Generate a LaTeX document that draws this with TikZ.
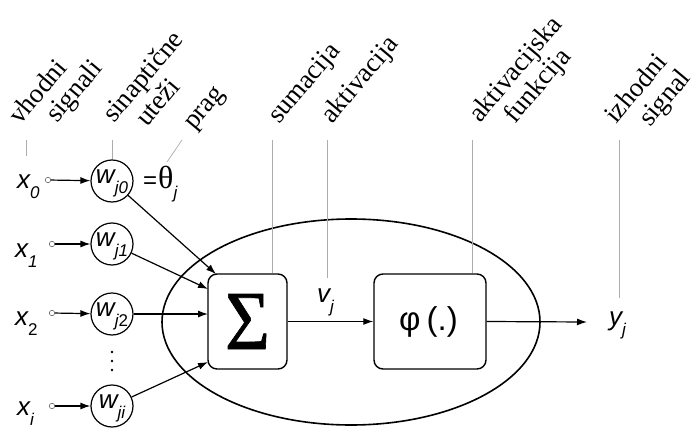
\documentclass[tikz,border=0pt]{standalone}
\usepackage{fontspec}
\setmainfont{Liberation Serif}
\setsansfont{Liberation Sans}
\newfontface\sigfont[FakeBold=0.8]{Liberation Serif}
\usetikzlibrary{arrows.meta}
\newcommand\sbs[1]{\raisebox{-0.42em}[0pt][0pt]{\fontsize{17}{17}\selectfont #1}}
\newcommand\wlbl[1]{\raisebox{-2pt}[0pt][0pt]{w\sbs{#1}}}
\begin{document}
\begin{tikzpicture}[x=1pt,y=-1pt,
  lab/.style={rotate=50,anchor=base west,inner sep=0pt,font=\fontsize{27}{27}\selectfont},
  lead/.style={draw=gray!65,line width=0.7pt},
  wcirc/.style={circle,draw,line width=1.2pt,minimum size=42pt,inner sep=0pt,font=\sffamily\itshape\fontsize{26}{26}\selectfont},
  xl/.style={anchor=base west,inner sep=0pt,font=\sffamily\itshape\fontsize{26}{26}\selectfont},
  dot/.style={circle,draw=gray!80!black,line width=0.6pt,minimum size=5.5pt,inner sep=0pt},
  arr/.style={-{Latex[length=10pt,width=7pt]},line width=1.2pt},
  bx/.style={draw,rounded corners=9pt,line width=1.4pt,fill=white}]
\useasboundingbox (0,0) rectangle (696,428);

% ellipse
\draw[line width=1.6pt] (351,322) ellipse [x radius=189, y radius=103];

% labels
\node[lab] (l1a) at (20,126) {vhodni};
\node[lab] (l1b) at (57,124) {signali};
\node[lab] (l2a) at (114,124) {sinaptične};
\node[lab] (l2b) at (147,128) {uteži};
\node[lab] (l3) at (194,131) {prag};
\node[lab] (l4) at (279,125) {sumacija};
\node[lab] (l5) at (332,125) {aktivacija};
\node[lab] (l6a) at (480,124) {aktivacijska};
\node[lab] (l6b) at (515,125) {funkcija};
\node[lab] (l7a) at (616,125) {izhodni};
\node[lab] (l7b) at (650,128) {signal};

% boxes
\node[bx,minimum width=79pt,minimum height=95pt] (sum) at (247.5,321.5) {\resizebox{45pt}{55pt}{\sigfont Σ}};
\node[bx,minimum width=112pt,minimum height=95pt,font=\sffamily\fontsize{33}{33}\selectfont] (phi) at (430,321.5) {φ\kern6pt(.)\kern3pt};

% weights
\node[wcirc] (w0) at (112,181) {\wlbl{j0}};
\node[wcirc] (w1) at (112,244) {\wlbl{j1}};
\node[wcirc] (w2) at (112,314) {\wlbl{j\upshape 2}};
\node[wcirc] (wi) at (112,406) {\wlbl{ji}};
\fill (112,352) circle (1.4pt) (112,361) circle (1.4pt) (112,370) circle (1.4pt);

% inputs
\node[xl] (x0) at (17,188) {x\sbs{0}};
\node[xl] (x1) at (15,257) {x\sbs{1}};
\node[xl] (x2) at (15,325) {x\sbs{\upshape 2}};
\node[xl] (xi) at (17,415) {x\sbs{i}};
\node[dot] (d0) at (48,180) {};
\node[dot] (d1) at (52,244) {};
\node[dot] (d2) at (52,313) {};
\node[dot] (di) at (52,406) {};
\draw[arr] (d0) -- (w0);
\draw[arr] (d1) -- (w1);
\draw[arr] (d2) -- (w2);
\draw[arr] (di) -- (wi);

% theta
\node[anchor=base west,inner sep=0pt] (th) at (143,188) {{\sffamily\fontsize{24}{24}\selectfont =}\kern1pt{\fontsize{32}{32}\selectfont θ}{\sffamily\itshape\fontsize{26}{26}\selectfont\sbs{j}}};

% weight -> sum
\coordinate (s0) at (216,274);
\coordinate (s1) at (208,289);
\coordinate (s2) at (208,314);
\coordinate (si) at (208,362);
\draw[arr] (w0) -- (s0);
\draw[arr] (w1) -- (s1);
\draw[arr] (w2) -- (s2);
\draw[arr] (wi) -- (si);

% sum -> phi -> out
\draw[arr] (sum) -- (phi);
\node[anchor=base west,inner sep=0pt,font=\sffamily\itshape\fontsize{26}{26}\selectfont] (vj) at (317,302) {v\sbs{j}};
\coordinate (oe) at (587,322);
\draw[arr] (phi.east) -- (oe);
\node[anchor=base west,inner sep=0pt,font=\sffamily\itshape\fontsize{26}{26}\selectfont] (yj) at (609,325) {y\sbs{j}};

% leader lines
\coordinate (t1) at (26,140); \coordinate (b1) at (26,156);
\coordinate (t2) at (112,140);
\coordinate (t3) at (182,140); \coordinate (b3) at (167,162);
\coordinate (t4) at (272,140);
\coordinate (t5) at (327,140); \coordinate (b5) at (327,278);
\coordinate (t6) at (472,140);
\coordinate (t7) at (619,140); \coordinate (b7) at (619,298);
\draw[lead] (t1) -- (b1);
\draw[lead] (t2) -- (w0.north);
\draw[lead] (t3) -- (b3);
\draw[lead] (t4) -- (t4 |- sum.north);
\draw[lead] (t5) -- (b5);
\draw[lead] (t6) -- (t6 |- phi.north);
\draw[lead] (t7) -- (b7);
\end{tikzpicture}
\end{document}
